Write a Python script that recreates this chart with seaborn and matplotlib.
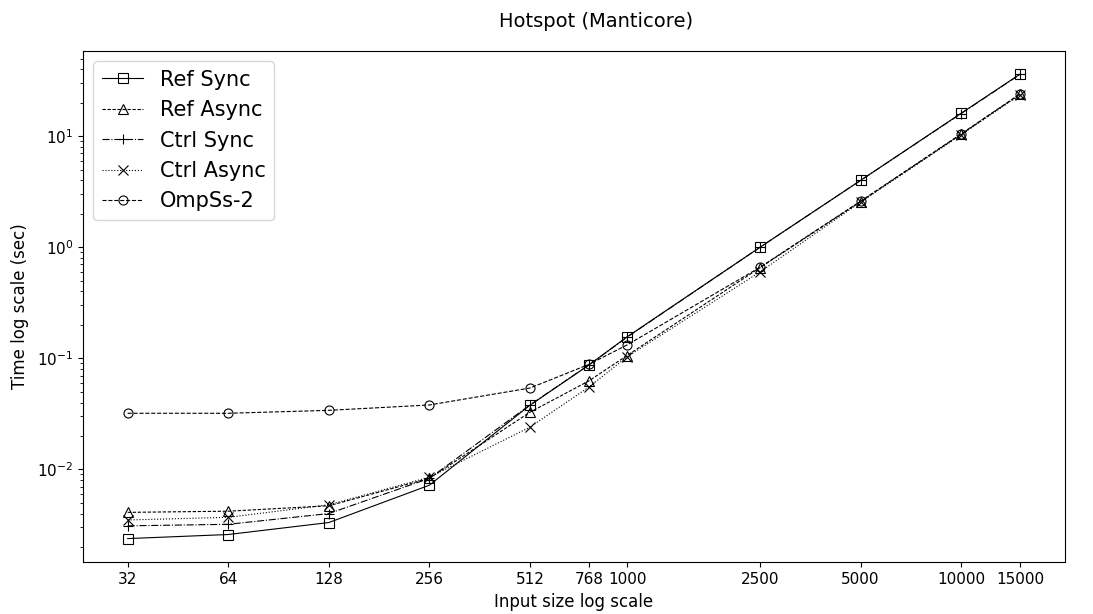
import numpy as np
import pandas as pd
import matplotlib
matplotlib.use("Agg")
import matplotlib.pyplot as plt
import seaborn as sns
from matplotlib.ticker import NullLocator

# Dimensioni di input e tempi (sec)
sizes = [32, 64, 128, 256, 512, 768, 1000, 2500, 5000, 10000, 15000]
size_labels = ["32", "64", "128", "256", "512", "768", "1000", "2500", "5000", "10000", "15000"]

ref_sync = [0.00238, 0.00259, 0.00332, 0.0072, 0.0378, 0.0868, 0.156, 1.0, 4.0, 16.1, 36.2]
ref_async = [0.0041, 0.0042, 0.0047, 0.0083, 0.0327, 0.0625, 0.106, 0.655, 2.58, 10.4, 23.9]
ctrl_sync = [0.0031, 0.0032, 0.0040, 0.0083, 0.038, 0.087, 0.155, 1.0, 4.0, 16.0, 36.0]
ctrl_async = [0.0035, 0.0037, 0.0048, 0.0085, 0.0240, 0.055, 0.103, 0.60, 2.55, 10.3, 23.6]
ompss2 = [0.032, 0.032, 0.034, 0.038, 0.054, 0.088, 0.132, 0.66, 2.6, 10.5, 24.0]

series = [
    ("Ref Sync", ref_sync, "s", "-"),
    ("Ref Async", ref_async, "^", (0, (3, 1.5))),
    ("Ctrl Sync", ctrl_sync, "+", "-."),
    ("Ctrl Async", ctrl_async, "x", ":"),
    ("OmpSs-2", ompss2, "o", "--"),
]

fig, ax = plt.subplots(figsize=(10.93, 6.14), dpi=100)

for name, vals, mk, ls in series:
    df = pd.DataFrame({"size": sizes, "time": vals})
    sns.lineplot(data=df, x="size", y="time", ax=ax, color="black",
                 marker=mk, linestyle=ls, linewidth=0.8, markersize=6.5,
                 markerfacecolor="none", markeredgecolor="black",
                 markeredgewidth=0.8, label=name, sort=False)

ax.set_xscale("log")
ax.set_yscale("log")
ax.set_xticks(sizes)
ax.set_xticklabels(size_labels)
ax.xaxis.set_minor_locator(NullLocator())

fig.suptitle("Hotspot (Manticore)", fontsize=14, x=0.545, y=0.98, va="top")
ax.set_xlabel("Input size log scale", fontsize=12, labelpad=5)
ax.set_ylabel("Time log scale (sec)", fontsize=12, labelpad=6)
ax.tick_params(labelsize=11)

ax.legend(loc="upper left", fontsize=15)

plt.subplots_adjust(left=0.076, right=0.974, top=0.917, bottom=0.085)
plt.savefig("out.png", dpi=100)
